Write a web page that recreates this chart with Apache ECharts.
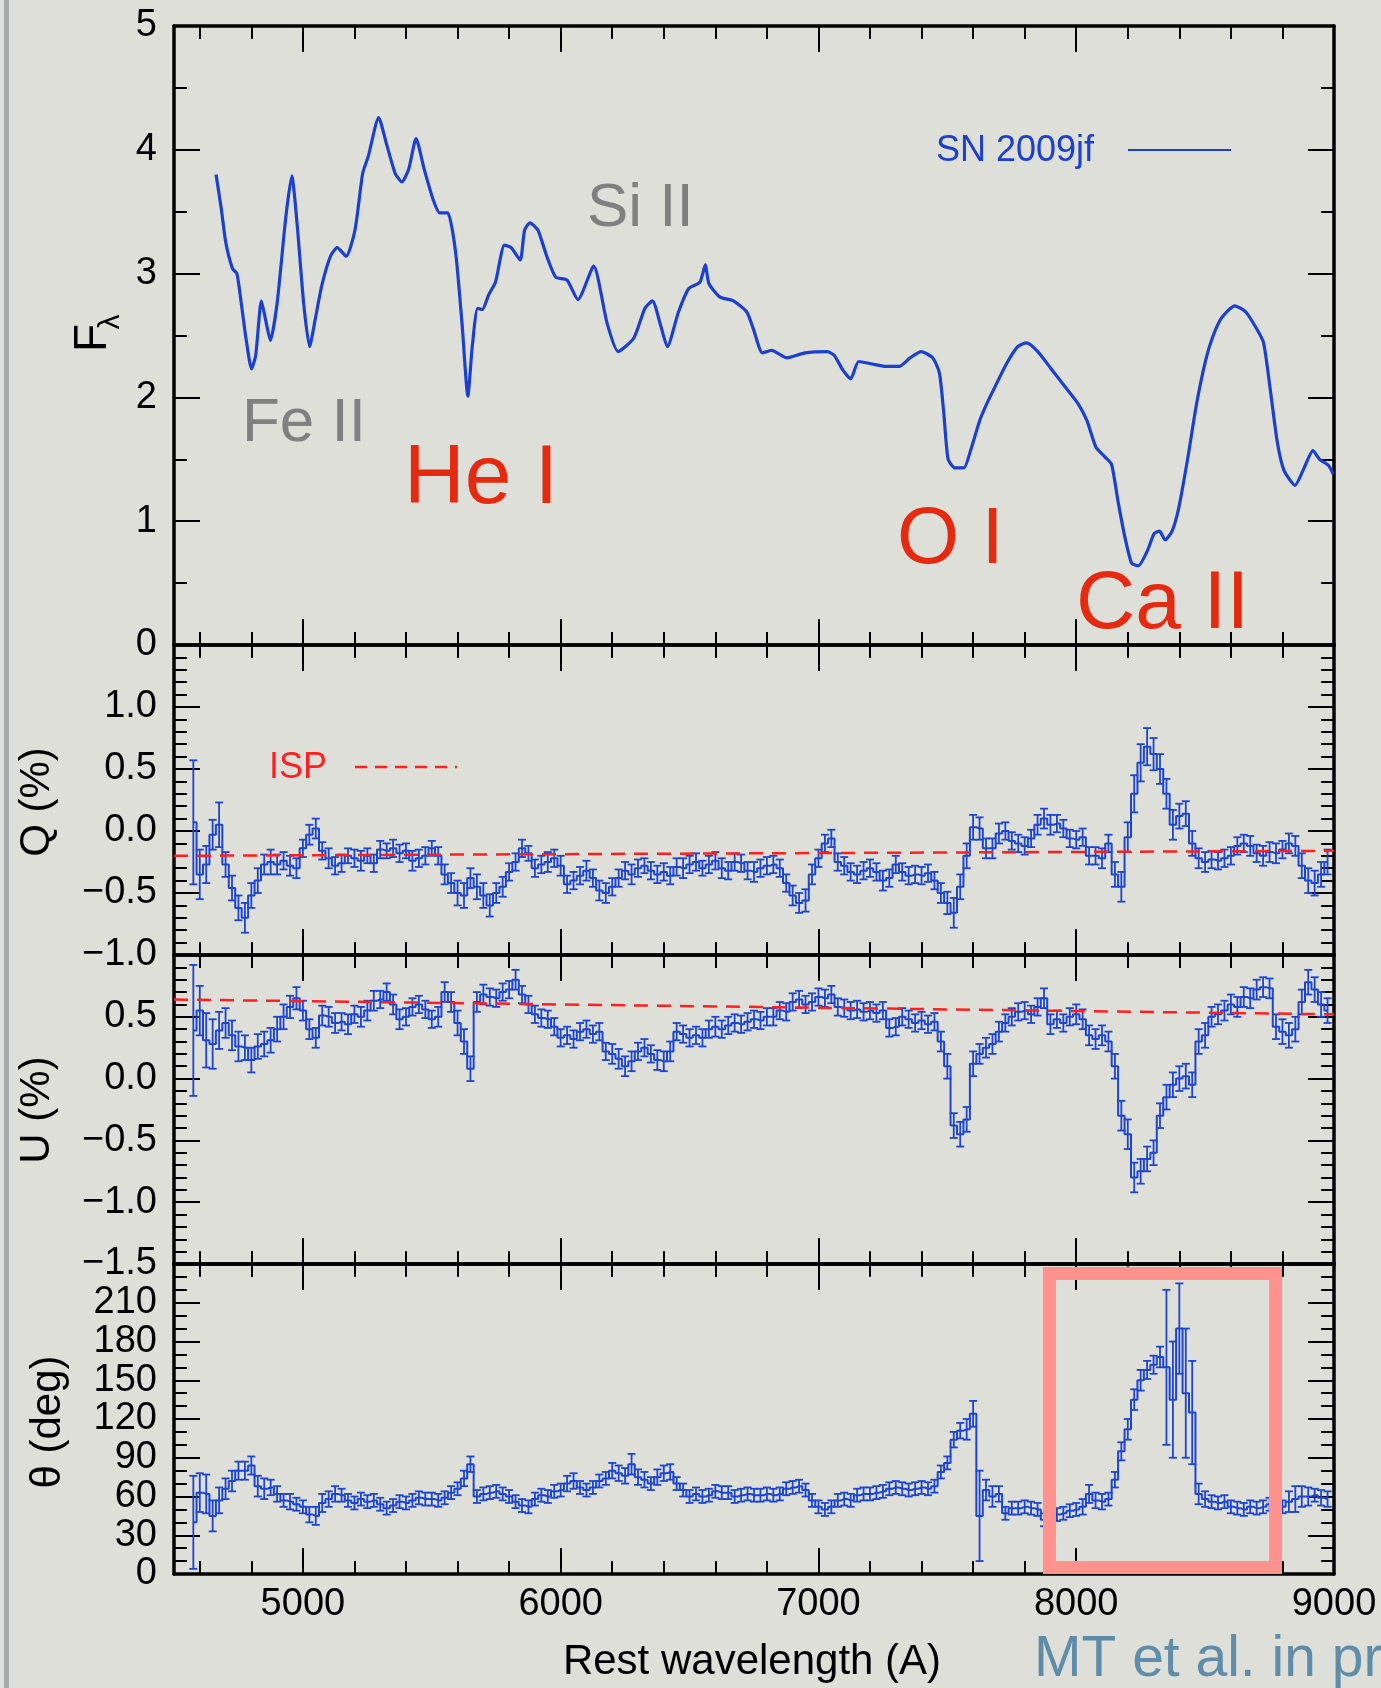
<!DOCTYPE html>
<html>
<head>
<meta charset="utf-8">
<script src="https://cdn.jsdelivr.net/npm/echarts@6/dist/echarts.min.js"></script>
<style>
  html, body { margin: 0; padding: 0; background: #dedfd9; }
  #main { width: 1381px; height: 1688px; }
</style>
</head>
<body>
<div id="main"></div>
<script>
// flux spectrum of SN 2009jf
const fluxWave = [
  4663, 4683, 4701, 4727, 4744, 4761, 4779, 4801, 4817, 4839,
  4856, 4874, 4900, 4934, 4957, 4978, 5003, 5026, 5047, 5073,
  5107, 5133, 5168, 5202, 5232, 5254, 5294, 5324, 5358, 5384,
  5410, 5439, 5471, 5505, 5531, 5562, 5592, 5618, 5640, 5657,
  5678, 5696, 5721, 5747, 5782, 5808, 5843, 5860, 5881, 5912,
  5946, 5981, 6024, 6067, 6128, 6180, 6223, 6284, 6327, 6356,
  6388, 6414, 6457, 6497, 6540, 6561, 6575, 6618, 6670, 6722,
  6748, 6783, 6818, 6878, 6948, 7035, 7061, 7095, 7125, 7156,
  7208, 7260, 7313, 7356, 7399, 7443, 7469, 7486, 7503, 7530,
  7564, 7590, 7625, 7651, 7686, 7729, 7773, 7807, 7851, 7903,
  7955, 8007, 8042, 8076, 8111, 8137, 8163, 8189, 8215, 8241,
  8276, 8302, 8323, 8345, 8372, 8398, 8432, 8467, 8502, 8528,
  8563, 8615, 8658, 8701, 8727, 8753, 8780, 8806, 8849, 8884,
  8918, 8944, 8979, 8997
]
const fluxVal = [
  3.80, 3.53, 3.25, 3.04, 3.00, 2.76, 2.48, 2.23, 2.34, 2.78,
  2.62, 2.46, 2.76, 3.46, 3.79, 3.39, 2.76, 2.41, 2.62, 2.90,
  3.14, 3.21, 3.14, 3.35, 3.81, 3.95, 4.26, 4.05, 3.81, 3.74,
  3.84, 4.09, 3.84, 3.60, 3.49, 3.49, 3.18, 2.58, 2.01, 2.41,
  2.72, 2.71, 2.83, 2.93, 3.23, 3.21, 3.11, 3.35, 3.41, 3.35,
  3.14, 2.97, 2.95, 2.79, 3.06, 2.60, 2.37, 2.48, 2.72, 2.78,
  2.58, 2.41, 2.69, 2.88, 2.93, 3.07, 2.92, 2.81, 2.78, 2.69,
  2.55, 2.36, 2.38, 2.32, 2.36, 2.37, 2.34, 2.22, 2.15, 2.29,
  2.27, 2.25, 2.25, 2.32, 2.37, 2.32, 2.20, 1.88, 1.50, 1.43,
  1.43, 1.57, 1.81, 1.94, 2.09, 2.27, 2.41, 2.44, 2.37, 2.23,
  2.09, 1.95, 1.81, 1.60, 1.52, 1.46, 1.15, 0.87, 0.66, 0.64,
  0.76, 0.90, 0.92, 0.85, 0.92, 1.11, 1.50, 1.95, 2.30, 2.48,
  2.64, 2.74, 2.69, 2.55, 2.44, 2.06, 1.64, 1.41, 1.29, 1.43,
  1.57, 1.50, 1.45, 1.38
]

// polarimetry bins (centres, A)
const binWave = [
  4575, 4600, 4625, 4650, 4675, 4700, 4725, 4750, 4775, 4800, 4825, 4850, 4875, 4900, 4925, 4950,
  4975, 5000, 5025, 5050, 5075, 5100, 5125, 5150, 5175, 5200, 5225, 5250, 5275, 5300, 5325, 5350,
  5375, 5400, 5425, 5450, 5475, 5500, 5525, 5550, 5575, 5600, 5625, 5650, 5675, 5700, 5725, 5750,
  5775, 5800, 5825, 5850, 5875, 5900, 5925, 5950, 5975, 6000, 6025, 6050, 6075, 6100, 6125, 6150,
  6175, 6200, 6225, 6250, 6275, 6300, 6325, 6350, 6375, 6400, 6425, 6450, 6475, 6500, 6525, 6550,
  6575, 6600, 6625, 6650, 6675, 6700, 6725, 6750, 6775, 6800, 6825, 6850, 6875, 6900, 6925, 6950,
  6975, 7000, 7025, 7050, 7075, 7100, 7125, 7150, 7175, 7200, 7225, 7250, 7275, 7300, 7325, 7350,
  7375, 7400, 7425, 7450, 7475, 7500, 7525, 7550, 7575, 7600, 7625, 7650, 7675, 7700, 7725, 7750,
  7775, 7800, 7825, 7850, 7875, 7900, 7925, 7950, 7975, 8000, 8025, 8050, 8075, 8100, 8125, 8150,
  8175, 8200, 8225, 8250, 8275, 8300, 8325, 8350, 8375, 8400, 8425, 8450, 8475, 8500, 8525, 8550,
  8575, 8600, 8625, 8650, 8675, 8700, 8725, 8750, 8775, 8800, 8825, 8850, 8875, 8900, 8925, 8950,
  8975
]

const qVal = [
  0.07, -0.35, -0.27, -0.03, 0.05, -0.27, -0.46, -0.62, -0.7, -0.52, -0.4, -0.27, -0.25, -0.27, -0.24, -0.28,
  -0.3, -0.14, -0.03, 0.02, -0.16, -0.22, -0.28, -0.26, -0.2, -0.22, -0.24, -0.2, -0.26, -0.15, -0.16, -0.14,
  -0.18, -0.16, -0.24, -0.22, -0.2, -0.14, -0.2, -0.35, -0.42, -0.5, -0.52, -0.38, -0.45, -0.52, -0.6, -0.5,
  -0.45, -0.33, -0.25, -0.14, -0.18, -0.3, -0.27, -0.25, -0.22, -0.28, -0.43, -0.4, -0.36, -0.32, -0.38, -0.48,
  -0.5, -0.45, -0.38, -0.32, -0.35, -0.3, -0.28, -0.32, -0.35, -0.33, -0.36, -0.29, -0.3, -0.27, -0.25, -0.3,
  -0.27, -0.24, -0.3, -0.32, -0.25, -0.26, -0.32, -0.33, -0.3, -0.28, -0.27, -0.3, -0.42, -0.52, -0.58, -0.56,
  -0.35, -0.22, -0.1, -0.06, -0.25, -0.28, -0.33, -0.35, -0.32, -0.3, -0.33, -0.4, -0.38, -0.27, -0.33, -0.36,
  -0.35, -0.36, -0.34, -0.4, -0.5, -0.58, -0.66, -0.45, -0.2, 0.03, 0.02, -0.14, -0.14, -0.02, 0.0, -0.08,
  -0.1, -0.12, -0.06, 0.05, 0.1, 0.05, 0.06, 0.02, -0.06, -0.07, -0.05, -0.2, -0.2, -0.22, -0.1, -0.35,
  -0.45, -0.05, 0.3, 0.55, 0.68, 0.62, 0.5, 0.3, 0.05, 0.12, 0.14, -0.1, -0.22, -0.25, -0.23, -0.24,
  -0.22, -0.2, -0.12, -0.1, -0.12, -0.18, -0.2, -0.17, -0.18, -0.15, -0.1, -0.12, -0.28, -0.4, -0.42, -0.35,
  -0.25
]
const qErr = [
  0.5, 0.2, 0.15, 0.12, 0.18, 0.1, 0.1, 0.1, 0.12, 0.1, 0.1, 0.08, 0.1, 0.08, 0.07, 0.08,
  0.08, 0.07, 0.08, 0.08, 0.07, 0.08, 0.07, 0.07, 0.06, 0.07, 0.08, 0.06, 0.07, 0.07, 0.06, 0.07,
  0.07, 0.06, 0.08, 0.07, 0.07, 0.06, 0.07, 0.08, 0.08, 0.1, 0.1, 0.08, 0.1, 0.1, 0.09, 0.08,
  0.08, 0.07, 0.07, 0.07, 0.06, 0.07, 0.07, 0.08, 0.07, 0.08, 0.07, 0.07, 0.07, 0.08, 0.07, 0.08,
  0.08, 0.07, 0.07, 0.07, 0.08, 0.07, 0.06, 0.07, 0.07, 0.07, 0.07, 0.07, 0.08, 0.07, 0.07, 0.06,
  0.07, 0.07, 0.08, 0.07, 0.07, 0.07, 0.07, 0.08, 0.07, 0.07, 0.07, 0.07, 0.07, 0.08, 0.08, 0.09,
  0.08, 0.07, 0.07, 0.07, 0.07, 0.07, 0.07, 0.07, 0.07, 0.07, 0.07, 0.08, 0.07, 0.07, 0.07, 0.07,
  0.07, 0.07, 0.07, 0.07, 0.08, 0.09, 0.12, 0.1, 0.1, 0.1, 0.09, 0.08, 0.08, 0.08, 0.07, 0.07,
  0.07, 0.07, 0.07, 0.08, 0.08, 0.08, 0.07, 0.07, 0.07, 0.07, 0.07, 0.07, 0.07, 0.08, 0.07, 0.1,
  0.12, 0.12, 0.15, 0.15, 0.15, 0.13, 0.12, 0.12, 0.12, 0.1, 0.1, 0.1, 0.08, 0.08, 0.07, 0.07,
  0.07, 0.07, 0.07, 0.07, 0.08, 0.07, 0.08, 0.08, 0.08, 0.07, 0.08, 0.08, 0.1, 0.1, 0.1, 0.1,
  0.1
]

const uVal = [
  0.39, 0.55, 0.31, 0.28, 0.39, 0.45, 0.35, 0.26, 0.25, 0.15, 0.26, 0.28, 0.31, 0.4, 0.5, 0.58,
  0.65, 0.55, 0.4, 0.33, 0.51, 0.5, 0.45, 0.46, 0.44, 0.52, 0.5, 0.55, 0.63, 0.64, 0.7, 0.6,
  0.48, 0.5, 0.58, 0.6, 0.56, 0.48, 0.5, 0.7, 0.62, 0.45, 0.3, 0.08, 0.62, 0.68, 0.66, 0.65,
  0.7, 0.72, 0.8, 0.68, 0.6, 0.52, 0.49, 0.48, 0.42, 0.33, 0.35, 0.32, 0.38, 0.4, 0.36, 0.38,
  0.22, 0.2, 0.16, 0.1, 0.14, 0.22, 0.25, 0.2, 0.15, 0.14, 0.22, 0.38, 0.36, 0.33, 0.35, 0.33,
  0.4, 0.42, 0.4, 0.43, 0.45, 0.44, 0.46, 0.48, 0.47, 0.5, 0.5, 0.55, 0.54, 0.62, 0.64, 0.6,
  0.62, 0.66, 0.65, 0.68, 0.58, 0.57, 0.55, 0.56, 0.54, 0.55, 0.53, 0.55, 0.41, 0.42, 0.5, 0.48,
  0.45, 0.47, 0.44, 0.46, 0.3, 0.1, -0.38, -0.45, -0.33, 0.12, 0.2, 0.25, 0.28, 0.38, 0.45, 0.5,
  0.54, 0.55, 0.52, 0.58, 0.65, 0.44, 0.48, 0.45, 0.5, 0.52, 0.48, 0.35, 0.32, 0.35, 0.3, 0.1,
  -0.3, -0.45, -0.8, -0.75, -0.65, -0.6, -0.3, -0.15, -0.05, 0.0, 0.02, -0.05, 0.3, 0.35, 0.5, 0.52,
  0.55, 0.6, 0.58, 0.66, 0.65, 0.72, 0.74, 0.73, 0.42, 0.38, 0.35, 0.4, 0.62, 0.78, 0.72, 0.6,
  0.55
]
const uErr = [
  0.53, 0.2, 0.22, 0.2, 0.15, 0.12, 0.12, 0.12, 0.1, 0.1, 0.1, 0.1, 0.1, 0.1, 0.1, 0.09,
  0.09, 0.08, 0.08, 0.08, 0.08, 0.08, 0.08, 0.07, 0.08, 0.07, 0.08, 0.08, 0.08, 0.07, 0.07, 0.08,
  0.08, 0.07, 0.07, 0.07, 0.07, 0.07, 0.08, 0.08, 0.08, 0.1, 0.1, 0.1, 0.08, 0.08, 0.07, 0.07,
  0.07, 0.07, 0.08, 0.07, 0.07, 0.07, 0.07, 0.07, 0.07, 0.07, 0.07, 0.07, 0.07, 0.07, 0.07, 0.07,
  0.07, 0.08, 0.08, 0.08, 0.08, 0.07, 0.07, 0.07, 0.08, 0.08, 0.08, 0.07, 0.07, 0.07, 0.07, 0.07,
  0.07, 0.08, 0.07, 0.07, 0.07, 0.07, 0.07, 0.07, 0.07, 0.07, 0.07, 0.07, 0.07, 0.07, 0.07, 0.07,
  0.07, 0.07, 0.07, 0.07, 0.07, 0.07, 0.07, 0.07, 0.07, 0.07, 0.07, 0.07, 0.07, 0.07, 0.07, 0.07,
  0.07, 0.07, 0.07, 0.07, 0.08, 0.1, 0.1, 0.1, 0.1, 0.1, 0.08, 0.08, 0.08, 0.08, 0.07, 0.07,
  0.07, 0.07, 0.07, 0.07, 0.08, 0.08, 0.07, 0.07, 0.07, 0.08, 0.08, 0.08, 0.08, 0.08, 0.08, 0.1,
  0.12, 0.12, 0.12, 0.1, 0.1, 0.1, 0.1, 0.1, 0.1, 0.1, 0.1, 0.1, 0.1, 0.1, 0.08, 0.08,
  0.08, 0.08, 0.08, 0.08, 0.08, 0.08, 0.08, 0.08, 0.1, 0.1, 0.1, 0.1, 0.1, 0.1, 0.1, 0.1,
  0.1
]

const thetaVal = [
  40, 63, 62, 45, 57, 66, 72, 80, 80, 84, 68, 66, 67, 62, 57, 56,
  54, 52, 46, 45, 55, 58, 62, 61, 57, 55, 58, 56, 57, 54, 51, 53,
  56, 55, 57, 59, 58, 58, 57, 59, 63, 66, 74, 85, 60, 62, 63, 64,
  62, 60, 56, 53, 52, 58, 61, 60, 64, 65, 70, 72, 67, 65, 67, 72,
  74, 80, 78, 76, 85, 75, 73, 70, 75, 78, 79, 70, 65, 60, 62, 60,
  61, 64, 63, 63, 60, 61, 62, 61, 61, 62, 61, 62, 66, 67, 68, 65,
  57, 52, 50, 52, 57, 58, 57, 61, 62, 62, 63, 64, 66, 67, 66, 65,
  66, 67, 66, 68, 79, 86, 104, 111, 112, 124, 45, 65, 60, 62, 47, 51,
  51, 52, 51, 50, 42, 44, 46, 47, 49, 50, 52, 62, 57, 56, 58, 73,
  95, 112, 135, 150, 158, 162, 168, 160, 135, 190, 140, 125, 62, 58, 56, 55,
  56, 52, 51, 50, 52, 51, 52, 54, 55, 52, 56, 58, 60, 60, 61, 59,
  58
]
const thetaErr = [
  36, 15, 15, 12, 10, 8, 8, 7, 7, 7, 8, 8, 6, 6, 5, 6,
  5, 5, 6, 7, 7, 6, 6, 5, 5, 5, 5, 5, 5, 5, 5, 5,
  5, 5, 5, 5, 5, 5, 5, 5, 5, 5, 6, 6, 5, 5, 5, 5,
  5, 5, 5, 5, 5, 5, 5, 5, 5, 5, 6, 6, 5, 5, 5, 5,
  5, 6, 6, 6, 8, 6, 6, 5, 6, 6, 6, 5, 5, 5, 5, 5,
  5, 5, 5, 5, 5, 5, 5, 5, 5, 5, 5, 5, 5, 5, 5, 5,
  5, 5, 5, 5, 5, 5, 5, 5, 5, 5, 5, 5, 5, 5, 5, 5,
  5, 5, 5, 5, 5, 5, 6, 6, 8, 10, 35, 8, 8, 6, 5, 5,
  5, 5, 5, 5, 5, 5, 5, 5, 5, 5, 6, 7, 6, 6, 5, 6,
  7, 8, 8, 8, 7, 7, 8, 60, 45, 35, 50, 40, 8, 6, 5, 5,
  5, 5, 5, 5, 5, 5, 5, 5, 5, 5, 8, 10, 8, 7, 5, 6,
  6
]

// interstellar polarization (dashed red lines)
const ispWave = [4500, 9000]
const ispQ = [-0.2, -0.16]
const ispU = [0.64, 0.52]

// axis ticks
const majorX = [5000, 6000, 7000, 8000, 9000]
const minorX = [4600, 4800, 5200, 5400, 5600, 5800, 6200, 6400, 6600, 6800,
                7200, 7400, 7600, 7800, 8200, 8400, 8600, 8800]

const chartDom = document.getElementById('main')
const myChart = echarts.init(chartDom, null, { renderer: 'canvas' })

const font = 'Liberation Sans, Arial, Helvetica, sans-serif'
const blue = '#1b44d2'
const red = '#ff1f1f'

const minus = s => s.replace('-', '\u2212')

const panels = [
    { top: 26, height: 619, min: 0, max: 5, interval: 1, split: 2, fmt: v => String(v) },
    { top: 645, height: 310, min: -1, max: 1.5, interval: 0.5, split: 5, fmt: v => v > 1.4 ? '' : minus(v.toFixed(1)) },
    { top: 955, height: 309, min: -1.5, max: 1, interval: 0.5, split: 5, fmt: v => v > 0.9 ? '' : minus(v.toFixed(1)) },
    { top: 1264, height: 310, min: 0, max: 240, interval: 30, split: 3, fmt: v => v > 230 ? '' : String(v) }
]

const grid = []
const xAxis = []
const yAxis = []

panels.forEach((p, g) => {
    grid.push({ left: 174, width: 1160, top: p.top, height: p.height, containLabel: false, outerBoundsMode: 'none' })
    const xs = [
        ['bottom', majorX, 26, g === 3, true],
        ['bottom', minorX, 13, false, false],
        ['top', majorX, 26, false, true],
        ['top', minorX, 13, false, false]
    ]
    xs.forEach(([pos, vals, len, labels, line]) => {
        xAxis.push({
            type: 'value', gridIndex: g, position: pos, min: 4500, max: 9000,
            axisLine: { show: line, onZero: false, lineStyle: { color: '#000', width: 3.5 } },
            axisTick: { show: true, inside: true, length: len, customValues: vals, lineStyle: { color: '#000', width: 2 } },
            axisLabel: {
                show: labels, customValues: majorX, formatter: v => String(v),
                fontSize: 38, fontFamily: font, color: '#000', margin: 12
            },
            splitLine: { show: false }
        })
    })
    ;['left', 'right'].forEach(pos => {
        yAxis.push({
            type: 'value', gridIndex: g, position: pos,
            min: p.min, max: p.max, interval: p.interval,
            axisLine: { show: true, onZero: false, lineStyle: { color: '#000', width: 3.5 } },
            axisTick: { show: true, inside: true, length: 26, lineStyle: { color: '#000', width: 2 } },
            minorTick: { show: true, splitNumber: p.split, length: 13, lineStyle: { color: '#000', width: 2 } },
            axisLabel: {
                show: pos === 'left', formatter: p.fmt,
                fontSize: 38, fontFamily: font, color: '#000', margin: 17
            },
            splitLine: { show: false },
            minorSplitLine: { show: false }
        })
    })
})

function errorBars(params, api) {
    const x = api.value(0)
    const v = api.value(1)
    const e = api.value(2)
    const hi = api.coord([x, v + e])
    const lo = api.coord([x, v - e])
    const w = 4
    const style = { stroke: blue, lineWidth: 1.8, fill: null }
    return {
        type: 'group',
        children: [
            { type: 'line', shape: { x1: hi[0], y1: hi[1], x2: lo[0], y2: lo[1] }, style },
            { type: 'line', shape: { x1: hi[0] - w, y1: hi[1], x2: hi[0] + w, y2: hi[1] }, style },
            { type: 'line', shape: { x1: lo[0] - w, y1: lo[1], x2: lo[0] + w, y2: lo[1] }, style }
        ]
    }
}

function polSeries(vals, errs, g, isp) {
    const xi = g * 4
    const yi = g * 2
    const out = [
        {
            type: 'line', xAxisIndex: xi, yAxisIndex: yi, step: 'middle', symbol: 'none',
            data: binWave.map((w, i) => [w, vals[i]]),
            lineStyle: { color: blue, width: 2 }, z: 3
        },
        {
            type: 'custom', xAxisIndex: xi, yAxisIndex: yi, renderItem: errorBars,
            data: binWave.map((w, i) => [w, vals[i], errs[i]]), z: 3
        }
    ]
    if (isp) {
        out.push({
            type: 'line', xAxisIndex: xi, yAxisIndex: yi, symbol: 'none',
            data: ispWave.map((w, i) => [w, isp[i]]),
            lineStyle: { color: red, width: 2.5, type: [14, 9] }, z: 5
        })
    }
    return out
}

const txt = (text, x, y, size, color, extra) => Object.assign({
    type: 'text', x, y, z: 20,
    style: { text, font: `${size}px ${font}`, fill: color, align: 'left', verticalAlign: 'middle' }
}, extra || {})

const rot = (text, x, y, size) => ({
    type: 'text', x, y, rotation: Math.PI / 2, z: 20,
    style: { text, font: `${size}px ${font}`, fill: '#000', align: 'center', verticalAlign: 'middle' }
})

const option = {
    backgroundColor: '#dedfd9',
    animation: false,
    grid,
    xAxis,
    yAxis,
    series: [
        {
            type: 'line', xAxisIndex: 0, yAxisIndex: 0, symbol: 'none', smooth: 0.2,
            data: fluxWave.map((w, i) => [w, fluxVal[i]]),
            lineStyle: { color: '#1b3fd0', width: 3.2 }
        },
        ...polSeries(qVal, qErr, 1, ispQ),
        ...polSeries(uVal, uErr, 2, ispU),
        ...polSeries(thetaVal, thetaErr, 3, null)
    ],
    graphic: [
        // slide border on the left
        { type: 'rect', shape: { x: 4, y: 0, width: 5, height: 1688 }, style: { fill: '#a9aaae' }, z: 1 },
        // line labels
        txt('Fe II', 242, 424, 62, '#808080'),
        txt('Si II', 587, 209, 62, '#808080'),
        txt('He I', 404, 480, 84, '#e62a10'),
        txt('O I', 897, 541, 80, '#e62a10'),
        txt('Ca II', 1076, 605, 82, '#e62a10'),
        // legend
        txt('SN 2009jf', 936, 151, 36, '#1b3fd0'),
        { type: 'line', shape: { x1: 1128, y1: 150, x2: 1231, y2: 150 }, style: { stroke: '#1b3fd0', lineWidth: 2 }, z: 20 },
        txt('ISP', 269, 768, 36, red),
        { type: 'line', shape: { x1: 355, y1: 767, x2: 457, y2: 767 }, style: { stroke: red, lineWidth: 2.5, lineDash: [12, 8] }, z: 20 },
        // axis titles
        rot('F', 93, 338, 46),
        rot('\u03bb', 111, 322, 30),
        rot('Q (%)', 37, 802, 42),
        rot('U (%)', 37, 1110, 42),
        rot('\u03b8 (deg)', 48, 1422, 42),
        {
            type: 'text', x: 752, y: 1662, z: 20,
            style: { text: 'Rest wavelength (A)', font: `42px ${font}`, fill: '#000', align: 'center', verticalAlign: 'middle' }
        },
        txt('MT et al. in prep.', 1034, 1660, 57, '#5f8ca9'),
        // highlight box
        {
            type: 'rect', shape: { x: 1049.5, y: 1273.5, width: 226, height: 294 },
            style: { fill: null, stroke: '#ff928c', lineWidth: 13 }, z: 30
        }
    ]
}

myChart.setOption(option)
</script>
</body>
</html>
